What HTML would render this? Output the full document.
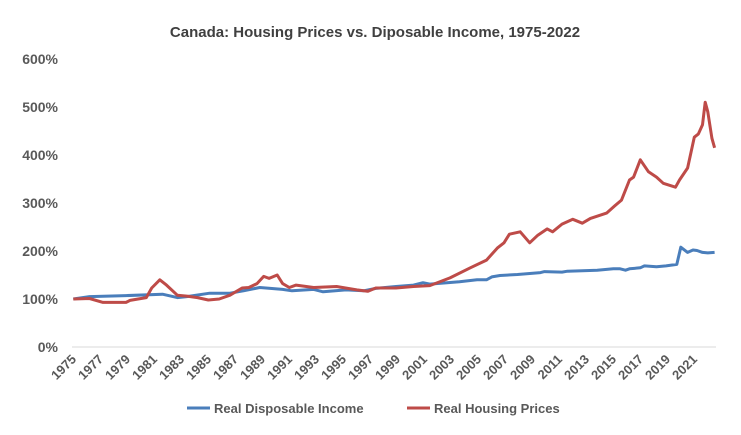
<!DOCTYPE html>
<html><head><meta charset="utf-8"><style>
body{margin:0;background:#fff;font-family:"Liberation Sans",sans-serif;}
svg text{font-family:"Liberation Sans",sans-serif;font-weight:bold;fill:#595959;}
</style></head><body>
<svg width="741" height="430" xmlns="http://www.w3.org/2000/svg">
<text x="375" y="37" text-anchor="middle" font-size="15" style="fill:#404040">Canada: Housing Prices vs. Diposable Income, 1975-2022</text>
<g id="yaxis"></g>
<g id="xaxis"></g>
<line x1="72" y1="347" x2="716" y2="347" stroke="#d9d9d9" stroke-width="1"/>
<g id="series"></g>
<g>
<g><line x1="187" y1="408" x2="210" y2="408" stroke="#4a7ebb" stroke-width="3"/><text x="214" y="413" font-size="13">Real Disposable Income</text></g>
<g><line x1="407" y1="408" x2="430" y2="408" stroke="#be4b48" stroke-width="3"/><text x="434" y="413" font-size="13">Real Housing Prices</text></g>
</g>
</svg>
<script>
const yTicks=[0,100,200,300,400,500,600];
const xTickYears=[1975,1977,1979,1981,1983,1985,1987,1989,1991,1993,1995,1997,1999,2001,2003,2005,2007,2009,2011,2013,2015,2017,2019,2021];
const housingT=[1975.1,1976.3,1977.3,1979.0,1979.3,1980.5,1980.9,1981.5,1982.0,1982.8,1983.5,1984.3,1985.1,1985.9,1986.7,1987.6,1988.1,1988.7,1989.2,1989.6,1990.2,1990.6,1991.1,1991.6,1992.9,1994.6,1996.1,1996.9,1997.5,1999.0,2000.3,2001.5,2003.0,2004.5,2005.7,2006.5,2007.0,2007.4,2008.2,2008.9,2009.5,2010.2,2010.6,2011.3,2012.1,2012.8,2013.4,2014.6,2015.2,2015.7,2016.3,2016.6,2017.1,2017.7,2018.3,2018.8,2019.7,2020.0,2020.6,2021.1,2021.4,2021.7,2021.9,2022.1,2022.4,2022.6];
const housingV=[100,101,93,93,97,103,123,140,129,108,106,103,98,100,108,123,124,132,147,143,150,132,124,129,124,126,119,116,123,123,126,128,144,165,181,206,217,235,240,217,233,246,240,256,266,258,268,279,294,306,348,354,390,365,354,341,333,348,373,437,444,463,510,490,435,415];
const incomeT=[1975.1,1976.3,1979.0,1981.7,1982.8,1983.5,1985.2,1986.7,1987.7,1988.9,1990.6,1991.3,1992.9,1993.6,1995.3,1996.6,1997.5,1999.0,2000.3,2001.0,2001.5,2003.7,2005.0,2005.7,2006.1,2006.7,2008.0,2009.7,2010.0,2011.3,2011.7,2013.9,2015.1,2015.6,2016.0,2016.3,2017.1,2017.4,2018.3,2019.0,2019.8,2020.1,2020.6,2021.0,2021.3,2021.7,2022.1,2022.6];
const incomeV=[100,105,107,110,103,105,112,112,117,124,120,117,120,115,119,117,122,126,129,134,131,136,140,140,146,149,151,155,157,156,158,160,163,163,160,163,165,169,167,169,172,208,197,202,201,197,196,197];
const NS="http://www.w3.org/2000/svg";
const xs=t=>72+(t-1975)*13.5;
const ys=v=>347-v*0.48;
const ya=document.getElementById('yaxis');
yTicks.forEach(v=>{const t=document.createElementNS(NS,'text');


t.setAttribute('x',58);t.setAttribute('y',ys(v)+5);t.setAttribute('text-anchor','end');t.setAttribute('font-size','14');t.textContent=v+'%';ya.appendChild(t);});
const xa=document.getElementById('xaxis');
xTickYears.forEach(y=>{const t=document.createElementNS(NS,'text');


const x=xs(y)+5,yy=360;t.setAttribute('x',x);t.setAttribute('y',yy);t.setAttribute('text-anchor','end');t.setAttribute('font-size','13');t.setAttribute('transform','rotate(-45 '+x+' '+yy+')');t.textContent=y;xa.appendChild(t);});
const sg=document.getElementById('series');
function line(T,V,c,name){const p=document.createElementNS(NS,'polyline');


p.setAttribute('points',T.map((t,i)=>xs(t).toFixed(1)+','+ys(V[i]).toFixed(1)).join(' '));p.setAttribute('fill','none');p.setAttribute('stroke',c);p.setAttribute('stroke-width','3');p.setAttribute('stroke-linejoin','round');sg.appendChild(p);}
line(incomeT,incomeV,'#4a7ebb','income-line');
line(housingT,housingV,'#be4b48','housing-line');
</script>
</body></html>
